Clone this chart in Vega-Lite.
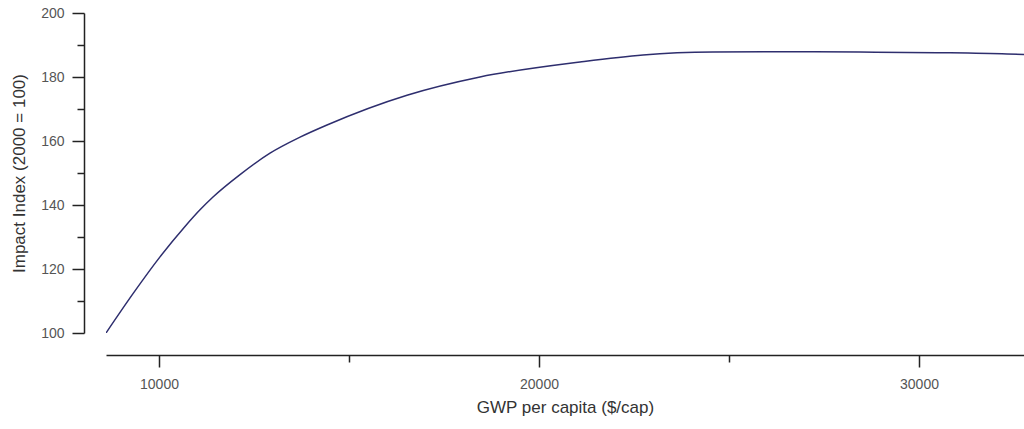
{
  "$schema": "https://vega.github.io/schema/vega-lite/v6.json",
  "autosize": {"type": "none"},
  "width": 918,
  "height": 320,
  "padding": {"left": 106, "top": 13, "right": 0, "bottom": 96},
  "background": "white",
  "config": {"view": {"stroke": null}},
  "data": {"values": [
    {"gwp": 8605, "impact": 100},
    {"gwp": 9316, "impact": 112.3},
    {"gwp": 10026, "impact": 123.8},
    {"gwp": 10684, "impact": 133.3},
    {"gwp": 11079, "impact": 138.5},
    {"gwp": 11421, "impact": 142.5},
    {"gwp": 12132, "impact": 149.5},
    {"gwp": 12921, "impact": 156.2},
    {"gwp": 13711, "impact": 161.2},
    {"gwp": 14421, "impact": 165.0},
    {"gwp": 16526, "impact": 174.3},
    {"gwp": 18447, "impact": 180.0},
    {"gwp": 21079, "impact": 184.7},
    {"gwp": 22737, "impact": 186.9},
    {"gwp": 24579, "impact": 187.8},
    {"gwp": 26868, "impact": 187.9},
    {"gwp": 28447, "impact": 187.8},
    {"gwp": 30474, "impact": 187.6},
    {"gwp": 32316, "impact": 187.2},
    {"gwp": 32763, "impact": 187.0}
  ]},
  "mark": {"type": "line", "color": "#2e2e6e", "strokeWidth": 1.5, "interpolate": "monotone", "clip": true},
  "encoding": {
    "x": {
      "field": "gwp", "type": "quantitative",
      "scale": {"domain": [8605, 32763], "nice": false, "zero": false},
      "axis": {
        "title": "GWP per capita ($/cap)",
        "values": [10000, 15000, 20000, 25000, 30000],
        "labelExpr": "datum.value % 10000 === 0 ? datum.value : ''",
        "offset": 22,
        "grid": false,
        "domainColor": "#222", "tickColor": "#222", "domainWidth": 1.5, "tickWidth": 1.5,
        "tickSize": {"condition": {"test": "datum.value % 10000 === 0", "value": 12}, "value": 7},
        "labelFont": "Liberation Sans", "labelFontSize": 14, "labelColor": "#555", "labelPadding": 10,
        "titleFont": "Liberation Sans", "titleFontSize": 17, "titleFontWeight": "normal", "titleColor": "#333", "titlePadding": 8
      }
    },
    "y": {
      "field": "impact", "type": "quantitative",
      "scale": {"domain": [100, 200], "nice": false, "zero": false},
      "axis": {
        "title": "Impact Index (2000 = 100)",
        "values": [100, 110, 120, 130, 140, 150, 160, 170, 180, 190, 200],
        "labelExpr": "datum.value % 20 === 0 ? datum.value : ''",
        "offset": 22,
        "grid": false,
        "domainColor": "#222", "tickColor": "#222", "domainWidth": 1.5, "tickWidth": 1.5,
        "tickSize": {"condition": {"test": "datum.value % 20 === 0", "value": 12}, "value": 7},
        "labelFont": "Liberation Sans", "labelFontSize": 14, "labelColor": "#555", "labelPadding": 8,
        "titleFont": "Liberation Sans", "titleFontSize": 17, "titleFontWeight": "normal", "titleColor": "#333", "titlePadding": 12
      }
    }
  }
}
